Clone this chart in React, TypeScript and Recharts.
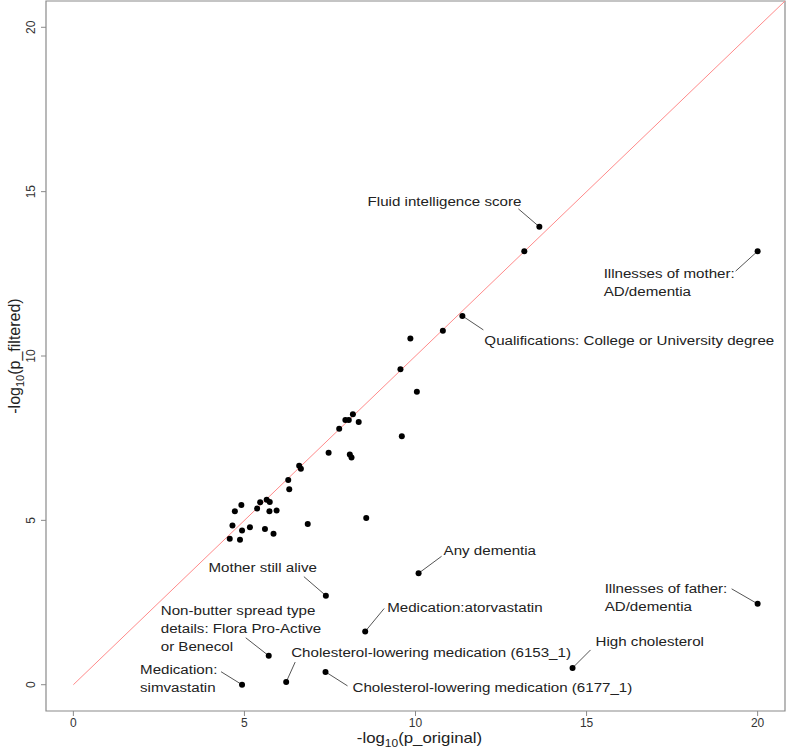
import React from 'react';
import { ScatterChart, Scatter, XAxis, YAxis, ReferenceLine, ReferenceArea, Label } from 'recharts';

const xTicks = [0, 5, 10, 15, 20];
const yTicks = [0, 5, 10, 15, 20];

// Unlabeled points: -log10(p_original), -log10(p_filtered)
const otherOriginal = [13.18, 10.8, 9.85, 9.56, 10.04, 9.6, 8.17, 7.95, 8.05, 8.34, 7.77, 7.46, 8.08, 8.13, 6.6, 6.65, 6.28, 6.31, 8.56, 6.85, 4.91, 4.72, 5.37, 5.46, 5.65, 5.74, 5.73, 5.94, 4.65, 5.16, 4.93, 5.6, 5.85, 4.57, 4.87];
const otherFiltered = [13.19, 10.77, 10.53, 9.6, 8.91, 7.56, 8.23, 8.05, 8.05, 7.99, 7.79, 7.06, 7.0, 6.91, 6.66, 6.57, 6.23, 5.95, 5.07, 4.89, 5.47, 5.28, 5.36, 5.55, 5.63, 5.56, 5.28, 5.3, 4.84, 4.79, 4.69, 4.74, 4.59, 4.44, 4.41];

// Labeled points
const labelNames = [
  'Fluid intelligence score',
  'Illnesses of mother:\nAD/dementia',
  'Qualifications: College or University degree',
  'Any dementia',
  'Mother still alive',
  'Medication:atorvastatin',
  'Non-butter spread type\ndetails: Flora Pro-Active\nor Benecol',
  'Medication:\nsimvastatin',
  'Cholesterol-lowering medication (6153_1)',
  'Cholesterol-lowering medication (6177_1)',
  'High cholesterol',
  'Illnesses of father:\nAD/dementia',
];
const labelOriginal = [13.62, 20, 11.37, 10.09, 7.38, 8.53, 5.71, 4.93, 6.22, 7.37, 14.59, 20];
const labelFiltered = [13.93, 13.19, 11.22, 3.39, 2.71, 1.62, 0.88, 0.0, 0.08, 0.39, 0.51, 2.46];

// Annotation layout (pixel offsets relative to the point), same order as labelNames
const labelLayout = [
  { anchor: 'end', tx: -18, ty: -26, lx: -21, ly: -18 },
  { anchor: 'start', tx: -154, ty: 22, lx: -22, ly: 20 },
  { anchor: 'start', tx: 22, ty: 24, lx: 21, ly: 14 },
  { anchor: 'start', tx: 25, ty: -23, lx: 23, ly: -17 },
  { anchor: 'end', tx: -9, ty: -29, lx: -22, ly: -19 },
  { anchor: 'start', tx: 22, ty: -24, lx: 19, ly: -23 },
  { anchor: 'start', tx: -108, ty: -46, lx: -23, ly: -18 },
  { anchor: 'start', tx: -102, ty: -16, lx: -21, ly: -13 },
  { anchor: 'start', tx: 5, ty: -30, lx: 9, ly: -20 },
  { anchor: 'start', tx: 27, ty: 15, lx: 22, ly: 14 },
  { anchor: 'start', tx: 23, ty: -27, lx: 18, ly: -18 },
  { anchor: 'start', tx: -153, ty: -16, lx: -26, ly: -15 },
];

const otherData = otherOriginal.map((x, i) => ({ x, y: otherFiltered[i] }));
const labelData = labelNames.map((name, i) => ({ x: labelOriginal[i], y: labelFiltered[i], name, idx: i }));

const FONT = '"Liberation Sans", Arial, Helvetica, sans-serif';
const GRAY = '#8a8a8a';
const R = 3;

const Dot = (p: any) => <circle cx={p.cx} cy={p.cy} r={R} fill="#000" />;

const LabeledDot = (p: any) => {
  const idx = p.payload ? p.payload.idx : p.idx;
  const L = labelLayout[idx];
  const name: string = labelNames[idx];
  const lines = name.split('\n');
  const { cx, cy } = p;
  return (
    <g>
      <line x1={cx} y1={cy} x2={cx + L.lx} y2={cy + L.ly} stroke="#555" strokeWidth={1} />
      <circle cx={cx} cy={cy} r={R} fill="#000" />
      {lines.map((t, i) => (
        <text
          key={i}
          x={0}
          y={0}
          transform={`translate(${cx + L.tx} ${cy + L.ty + i * 18 + 5}) scale(1.12 1)`}
          textAnchor={L.anchor as any}
          fontSize={13.5}
          fontFamily={FONT}
          fill="#222"
        >
          {t}
        </text>
      ))}
    </g>
  );
};

const XTick = (p: any) => (
  <text x={p.x} y={p.y + 9} textAnchor="middle" fontSize={12} fontFamily={FONT} fill="#333">
    {p.payload.value}
  </text>
);

const YTick = (p: any) => {
  const bx = 35;
  return (
    <text x={bx} y={p.y} transform={`rotate(-90 ${bx} ${p.y})`} textAnchor="middle" fontSize={12} fontFamily={FONT} fill="#333">
      {p.payload.value}
    </text>
  );
};

const XTitle = (props: any) => {
  const vb = props.viewBox || { x: 46, y: 711, width: 739, height: 38 };
  const cx = vb.x + vb.width / 2 + 4;
  return (
    <text x={0} y={0} transform={`translate(${cx} 742.5) scale(1.2 1)`} textAnchor="middle" fontSize={14} fontFamily={FONT} fill="#222">
      -log
      <tspan fontSize={10} dy={4}>10</tspan>
      <tspan dy={-4}>(p_original)</tspan>
    </text>
  );
};

const YTitle = (props: any) => {
  const vb = props.viewBox || { x: 0, y: 1, width: 46, height: 710 };
  const cy = vb.y + vb.height / 2;
  const bx = 20;
  return (
    <text x={bx} y={cy} transform={`rotate(-90 ${bx} ${cy})`} textAnchor="middle" fontSize={16} fontFamily={FONT} fill="#222">
      -log
      <tspan fontSize={11} dy={4}>10</tspan>
      <tspan dy={-4}>(p_filtered)</tspan>
    </text>
  );
};

export default function App() {
  return (
    <div style={{ position: 'absolute', left: 0, top: 0, width: 787, height: 749, background: '#fff' }}>
      <ScatterChart width={787} height={749} margin={{ top: 1, right: 2, left: 0, bottom: 0 }}>
        <XAxis
          type="number"
          dataKey="x"
          domain={[-0.8, 20.8]}
          ticks={xTicks}
          allowDataOverflow
          axisLine={false}
          tickLine={{ stroke: GRAY }}
          tickSize={5}
          tickMargin={2}
          height={38}
          tick={<XTick />}
          interval={0}
        >
          <Label content={<XTitle />} position="bottom" />
        </XAxis>
        <YAxis
          type="number"
          dataKey="y"
          domain={[-0.8, 20.8]}
          ticks={yTicks}
          allowDataOverflow
          axisLine={false}
          tickLine={{ stroke: GRAY }}
          tickSize={5}
          tickMargin={2}
          width={46}
          tick={<YTick />}
          interval={0}
        >
          <Label content={<YTitle />} position="left" />
        </YAxis>
        <ReferenceArea x1={-0.8} x2={20.8} y1={-0.8} y2={20.8} fill="none" stroke={GRAY} strokeWidth={1.2} ifOverflow="visible" />
        <ReferenceLine segment={[{ x: 0, y: 0 }, { x: 20.8, y: 20.8 }]} stroke="#ff8a8a" strokeWidth={1} ifOverflow="visible" />
        <Scatter data={otherData} shape={<Dot />} isAnimationActive={false} />
        <Scatter data={labelData} shape={<LabeledDot />} isAnimationActive={false} />
      </ScatterChart>
    </div>
  );
}
